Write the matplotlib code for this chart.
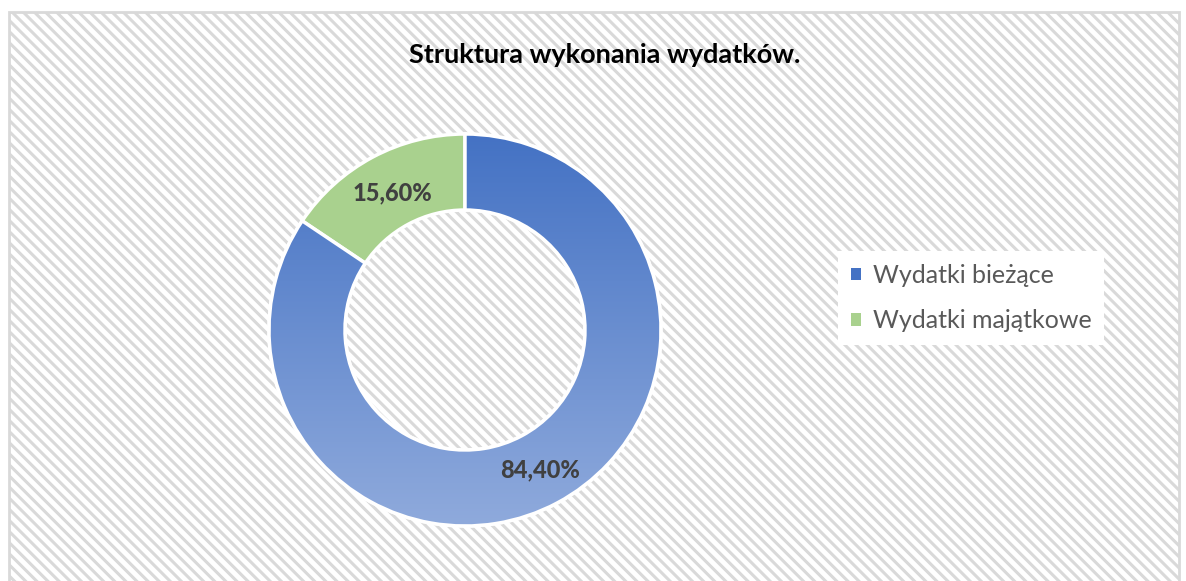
import matplotlib.pyplot as plt
import matplotlib.patches as mpatches
import numpy as np

plt.rcParams['font.family'] = ['Lato', 'DejaVu Sans']
plt.rcParams['hatch.linewidth'] = 2.2
plt.rcParams['hatch.color'] = '#ebebeb'

title = 'Struktura wykonania wydatków.'
labels = ['Wydatki bieżące', 'Wydatki majątkowe']
values = [84.40, 15.60]
value_texts = ['84,40%', '15,60%']
colors = ['#4472C4', '#A9D18E']

W, H = 1186, 581
fig = plt.figure(figsize=(W / 100, H / 100), dpi=100)
ax = fig.add_axes([0, 0, 1, 1])
ax.set_xlim(0, W)
ax.set_ylim(0, H)
ax.set_aspect('equal')
ax.axis('off')

# chart area with diagonal hatch
bg = mpatches.Rectangle((9, -5), 1170, H - 12 + 5, facecolor='white',
                        edgecolor='#d9d9d9', hatch='\\\\\\', linewidth=2, zorder=0)
ax.add_patch(bg)

cx, cy, r = 465, H - 330, 196
wedges, _ = ax.pie(values, colors=colors, startangle=90, counterclock=False,
                   center=(cx, cy), radius=r, frame=True,
                   wedgeprops=dict(width=76, edgecolor='white', linewidth=2.5))
ax.set_xlim(0, W)
ax.set_ylim(0, H)
ax.axis('off')

# gradient on the blue segment
grad = np.linspace(0, 1, 256).reshape(-1, 1)
top = np.array([0x44, 0x72, 0xC4]) / 255
bot = np.array([0x8F, 0xAA, 0xDC]) / 255
img = top + (bot - top) * grad[:, :, None]
im = ax.imshow(img, extent=(cx - r, cx + r, cy - r, cy + r), origin='upper',
               aspect='auto', zorder=2)
im.set_clip_path(wedges[0])
edge = mpatches.Wedge((cx, cy), r, wedges[0].theta1, wedges[0].theta2, width=76,
                      facecolor='none', edgecolor='white', linewidth=2.5, zorder=3)
ax.add_patch(edge)

ax.text(392, H - 193, value_texts[1], ha='center', va='center', fontsize=17,
        fontweight='black', color='#404040', zorder=4)
ax.text(540, H - 470, value_texts[0], ha='center', va='center', fontsize=17,
        fontweight='black', color='#404040', zorder=4)

ax.text(605, H - 55, title, ha='center', va='center', fontsize=19.5,
        fontweight='bold', color='black')

handles = [mpatches.Patch(facecolor=colors[0]), mpatches.Patch(facecolor=colors[1])]
leg = fig.legend(handles, labels, loc='center left', bbox_to_anchor=(838 / W, 1 - 298 / H),
                 frameon=True, fancybox=False, edgecolor='none', fontsize=18,
                 labelcolor='#595959', handlelength=0.4, handleheight=0.4,
                 handletextpad=0.5, labelspacing=0.9, borderpad=0.5,
                 borderaxespad=0)
leg.get_frame().set_facecolor('white')
leg.get_frame().set_alpha(1)

fig.savefig('out.png', dpi=100)
